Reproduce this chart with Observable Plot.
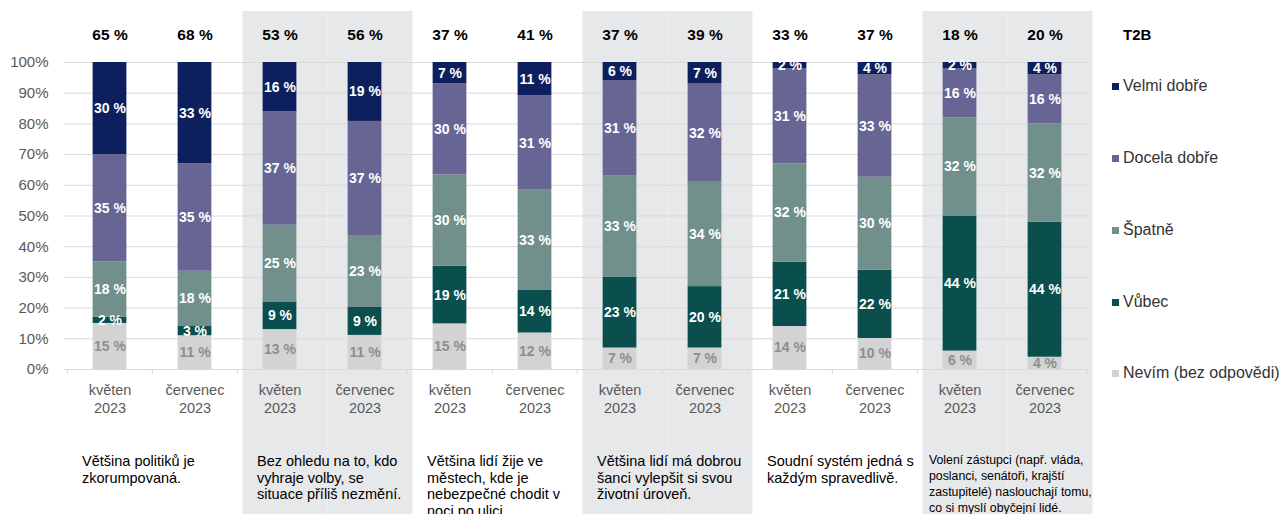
<!DOCTYPE html>
<html>
<head>
<meta charset="utf-8">
<script src="https://cdn.jsdelivr.net/npm/d3@7"></script>
<script src="https://cdn.jsdelivr.net/npm/@observablehq/plot@0.6"></script>
<style>
  html, body { margin: 0; padding: 0; background: #fff; }
  #wrap { position: relative; width: 1284px; height: 514px; font-family: "Liberation Sans", Arial, sans-serif; }
  #chart { position: absolute; left: 0; top: 0; }
  .t2b { position: absolute; left: 1123px; top: 26px; font-weight: bold; font-size: 15px; color: #000; }
  .leg { position: absolute; left: 1112px; font-size: 16px; color: #333; white-space: nowrap; line-height: 18px; }
  .leg span.sw { display: inline-block; width: 7px; height: 7px; margin-right: 4px; vertical-align: 1px; }
</style>
</head>
<body>
<div id="wrap">
  <div id="chart"></div>
</div>
<script>
// ---- data ----
const months = ["květen\n2023", "červenec\n2023"];
const statements = [
  "Většina politiků je\nzkorumpovaná.",
  "Bez ohledu na to, kdo\nvyhraje volby, se\nsituace příliš nezmění.",
  "Většina lidí žije ve\nměstech, kde je\nnebezpečné chodit v\nnoci po ulici.",
  "Většina lidí má dobrou\nšanci vylepšit si svou\nživotní úroveň.",
  "Soudní systém jedná s\nkaždým spravedlivě.",
  "Volení zástupci (např. vláda,\nposlanci, senátoři, krajští\nzastupitelé) naslouchají tomu,\nco si myslí obyčejní lidé."
];
const seriesNames = ["Nevím (bez odpovědi)", "Vůbec", "Špatně", "Docela dobře", "Velmi dobře"];
const nevim  = [15, 11, 13, 11, 15, 12, 7, 7, 14, 10, 6, 4];
const vubec  = [2, 3, 9, 9, 19, 14, 23, 20, 21, 22, 44, 44];
const spatne = [18, 18, 25, 23, 30, 33, 33, 34, 32, 30, 32, 32];
const docela = [35, 35, 37, 37, 30, 31, 31, 32, 31, 33, 16, 16];
const velmi  = [30, 33, 16, 19, 7, 11, 6, 7, 2, 4, 2, 4];
const t2b    = [65, 68, 53, 56, 37, 41, 37, 39, 33, 37, 18, 20];
const yTicks = [0, 10, 20, 30, 40, 50, 60, 70, 80, 90, 100];

const colors = {
  "Nevím (bez odpovědi)": "#d3d3d3",
  "Vůbec": "#0a4f4d",
  "Špatně": "#718f8b",
  "Docela dobře": "#676594",
  "Velmi dobře": "#0d1f5c"
};

// ---- derived tables ----
const seriesValues = [nevim, vubec, spatne, docela, velmi];
const keys = d3.range(t2b.length);
const rows = keys.flatMap(i => seriesNames.map((s, j) => ({key: i, series: s, value: seriesValues[j][i]})));
const greyKeys = keys.filter(i => Math.floor(i / 2) % 2 === 1);
const groupStarts = statements.map((s, g) => ({key: g * 2, text: s, g}));

const W = 1284, H = 514, mL = 65, mR = 196, mT = 62, mB = 145;
const step = (W - mL - mR) / keys.length;
const half = step / 2;
const frameH = H - mT - mB;

const stmtStyle = {x: "key", text: "text", frameAnchor: "bottom", textAnchor: "start", lineAnchor: "top", fill: "#000"};

const chart = Plot.plot({
  width: W, height: H,
  marginLeft: mL, marginRight: mR, marginTop: mT, marginBottom: mB,
  style: {fontFamily: "'Liberation Sans', Arial, sans-serif", background: "transparent", overflow: "visible"},
  x: {domain: keys, padding: 0, axis: null},
  y: {domain: [0, 1], axis: null},
  color: {type: "identity"},
  marks: [
    // grey group backgrounds
    Plot.cell(greyKeys, {x: d => d, fill: "#e7e8ea", dx: 5.5, insetTop: -(mT - 11), insetBottom: -mB}),
    // gridlines
    Plot.ruleY(yTicks, {y: d => d / 100, stroke: "#d9d9d9", strokeWidth: 1, insetLeft: -1}),
    // category boundary ticks
    Plot.ruleX(keys, {x: d => d, dx: -half, insetTop: frameH, insetBottom: -5, stroke: "#d9d9d9"}),
    Plot.ruleX([keys[keys.length - 1]], {x: d => d, dx: half, insetTop: frameH, insetBottom: -5, stroke: "#d9d9d9"}),
    // bars
    Plot.barY(rows, Plot.stackY({
      x: "key", y: "value", z: "series", order: seriesNames, offset: "normalize",
      fill: d => colors[d.series], insetLeft: half - 17, insetRight: half - 17
    })),
    // segment labels
    Plot.text(rows, Plot.stackY({
      x: "key", y: "value", z: "series", order: seriesNames, offset: "normalize",
      text: d => d.value + " %",
      fill: d => d.series === seriesNames[0] ? "#8e8e8e" : "#ffffff",
      fontWeight: "bold", fontSize: 14
    })),
    // y tick labels
    Plot.text(yTicks, {y: d => d / 100, frameAnchor: "left", dx: -17, textAnchor: "end",
      text: d => d + "%", fill: "#595959", fontSize: 15}),
    // x tick labels
    Plot.text(keys, {x: d => d, frameAnchor: "bottom", dy: 13, lineAnchor: "top", lineHeight: 1.25,
      text: d => months[d % 2], fill: "#595959", fontSize: 14.5}),
    // T2B totals
    Plot.text(keys, {x: d => d, frameAnchor: "top", dy: -27, lineAnchor: "middle", text: d => t2b[d] + " %",
      fontWeight: "bold", fontSize: 15.5, fill: "#000"}),
    // statements
    Plot.text(groupStarts.filter(d => d.g === 0), {...stmtStyle, dy: 84, dx: -28, lineHeight: 1.17, fontSize: 14.5}),
    Plot.text(groupStarts.filter(d => d.g > 0 && d.g < 5), {...stmtStyle, dy: 84, dx: -23, lineHeight: 1.17, fontSize: 14.5}),
    Plot.text(groupStarts.filter(d => d.g === 5), {...stmtStyle, dy: 83, dx: -31, lineHeight: 1.3, fontSize: 12.3})
  ]
});
document.getElementById("chart").appendChild(chart);

// legend (top to bottom)
const wrap = document.getElementById("wrap");
const t = document.createElement("div");
t.className = "t2b"; t.textContent = "T2B";
wrap.appendChild(t);
const legTops = [77, 149, 221, 293, 364];
seriesNames.slice().reverse().forEach((s, i) => {
  const d = document.createElement("div");
  d.className = "leg";
  d.style.top = legTops[i] + "px";
  d.innerHTML = `<span class="sw" style="background:${colors[s]}"></span>${s}`;
  wrap.appendChild(d);
});
</script>
</body>
</html>
